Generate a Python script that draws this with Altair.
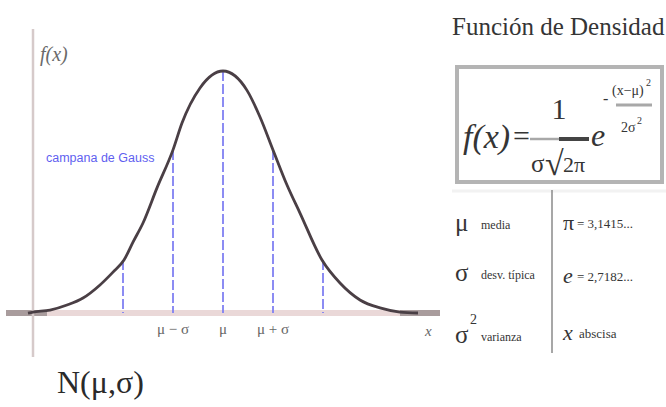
import altair as alt
import pandas as pd

# Bell curve, x in units of sigma around mu, height relative to the peak
curve_x = [-3.9, -3.8, -3.46, -3.12, -2.8, -2.46, -2.2, -1.98, -1.8, -1.6, -1.32, -1.0,
           -0.82, -0.46, 0.0, 0.48, 0.74, 1.0, 1.28, 1.54, 1.98, 2.34, 2.74, 3.14,
           3.54, 3.9]
curve_y = [0.0, 0.004, 0.012, 0.033, 0.062, 0.116, 0.169, 0.219, 0.293, 0.372, 0.517,
           0.674, 0.785, 0.93, 1.0, 0.92, 0.81, 0.674, 0.529, 0.413, 0.219, 0.124,
           0.054, 0.021, 0.004, 0.0]

# Dashed guides at mu + k*sigma, up to the curve
guide_k = [-2, -1, 0, 1, 2]
guide_h = [0.219, 0.674, 1.0, 0.674, 0.219]

# Tick labels under the x axis
tick_k = [-1, 0, 1]
tick_labels = ["μ − σ", "μ", "μ + σ"]

# Legend of symbols and constants
legend_symbols = ["μ", "σ", "σ"]
legend_names = ["media", "desv. típica", "varianza"]
const_symbols = ["π", "e", "x"]
const_values = ["= 3,1415...", "= 2,7182...", "abscisa"]

W, H = 666, 407
SERIF = "Liberation Serif"
INK = "#353535"
GREY = "#666666"

xs = alt.Scale(domain=[-4.46, 8.86], nice=False, zero=False)
ys = alt.Scale(domain=[-0.3884, 1.2934], nice=False, zero=False)

curve_df = pd.DataFrame({"x": curve_x, "y": curve_y})
guide_df = pd.DataFrame({"k": guide_k, "h": guide_h})
tick_df = pd.DataFrame({"k": tick_k, "label": tick_labels})

one = pd.DataFrame({"i": [0]})


def txt(s, x, y, size, color=INK, font=SERIF, style="normal", align="left",
        baseline="middle"):
    return alt.Chart(one).mark_text(
        text=s, font=font, fontSize=size, fontStyle=style, color=color,
        align=align, baseline=baseline
    ).encode(x=alt.value(x), y=alt.value(y))


def hline(x1, x2, y, color, width):
    return alt.Chart(one).mark_rule(color=color, strokeWidth=width).encode(
        x=alt.value(x1), x2=alt.value(x2), y=alt.value(y))


def vline(x, y1, y2, color, width):
    return alt.Chart(one).mark_rule(color=color, strokeWidth=width).encode(
        x=alt.value(x), y=alt.value(y1), y2=alt.value(y2))


# Axes of the density plot (y = 0 sits at 313 px)
axes = [
    hline(6, 440, 313, "#a99c9d", 6),
    hline(47, 400, 313, "#ead8d8", 6),
    vline(33, 29, 357, "#d6caca", 2.5),
]

guides = alt.Chart(guide_df).mark_rule(
    color="#8080f2", strokeWidth=1.8, strokeDash=[10, 3]
).encode(
    x=alt.X("k:Q", scale=xs, axis=None),
    y=alt.Y("h:Q", scale=ys, axis=None),
    y2=alt.value(313),
)

curve = alt.Chart(curve_df).mark_line(
    color="#4a3f45", strokeWidth=2.8, interpolate="monotone"
).encode(
    x=alt.X("x:Q", scale=xs, axis=None),
    y=alt.Y("y:Q", scale=ys, axis=None),
)

ticks = alt.Chart(tick_df).mark_text(
    font=SERIF, fontSize=15, color=GREY, baseline="middle"
).encode(
    x=alt.X("k:Q", scale=xs, axis=None),
    y=alt.value(329),
    text="label:N",
)

left_texts = [
    txt("f(x)", 40, 55, 20, color="#6a6a6a", style="italic"),
    txt("campana de Gauss", 46, 158, 12.5, color="#5f5ff0", font="Liberation Sans"),
    txt("x", 425, 331, 15, color=GREY, style="italic"),
    txt("N(μ,σ)", 57, 383, 32, color="#2a2a2a"),
]

# Right panel: title, boxed formula, legend
right = [
    txt("Función de Densidad", 452, 35, 25, baseline="alphabetic"),
    alt.Chart(one).mark_rect(fill="white", stroke="#b4b4b4", strokeWidth=4).encode(
        x=alt.value(457), x2=alt.value(662), y=alt.value(67), y2=alt.value(182)),
    txt("f(x)", 463, 148, 34, style="italic", baseline="alphabetic"),
    txt("=", 513, 146, 30, baseline="alphabetic"),
    txt("1", 559, 119, 30, align="center", baseline="alphabetic"),
    hline(530, 560, 139, "#a8a8a8", 2.5),
    hline(559, 589, 139, "#444444", 4),
    txt("σ", 531, 172, 25, baseline="alphabetic"),
    txt("√", 545, 175, 34, baseline="alphabetic"),
    txt("2π", 563, 172, 22, baseline="alphabetic"),
    txt("e", 591, 146, 32, style="italic", baseline="alphabetic"),
    txt("-", 603, 99, 16),
    txt("(x−μ)", 612, 95, 14, baseline="alphabetic"),
    txt("2", 646, 86, 10, baseline="alphabetic"),
    hline(616, 652, 105, "#a8a8a8", 3),
    txt("2σ", 621, 132, 14, baseline="alphabetic"),
    txt("2", 637, 124, 10, baseline="alphabetic"),
    hline(452, 666, 191, "#f2f2f2", 3),
    vline(552, 190, 353, "#8a8a8a", 1.5),
]

row_y = [223, 273, 335]
for sym, name, yy in zip(legend_symbols, legend_names, row_y):
    right.append(txt(sym, 455, yy, 25))
    right.append(txt(name, 481, yy + 2, 12))
right.append(txt("2", 470, 320, 14))

const_y = [223, 276, 333]
for i, (sym, val, yy) in enumerate(zip(const_symbols, const_values, const_y)):
    style = "normal" if i == 0 else "italic"
    right.append(txt(sym, 563, yy, 22, style=style))
    right.append(txt(val, 577 if i < 2 else 579, yy + 1, 13))

chart = alt.layer(
    *axes, guides, curve, ticks, *left_texts, *right
).properties(
    width=W, height=H, padding=0, autosize=alt.AutoSizeParams(type="none"),
    background="white",
).configure_view(stroke=None)

chart.save("out.html", embed_options={"renderer": "svg", "actions": False})
